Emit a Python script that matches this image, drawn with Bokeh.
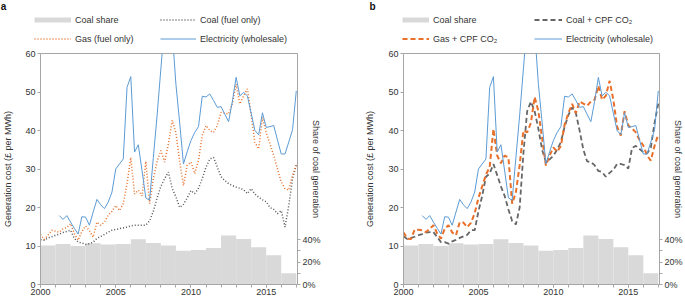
import numpy as np
from bokeh.plotting import figure
from bokeh.models import (Range1d, LinearAxis, FixedTicker, NumeralTickFormatter,
                          Legend, LegendItem)
from bokeh.layouts import row, column
from bokeh.embed import file_html
from bokeh.resources import INLINE

FONT = "Liberation Sans"

# ---------------- data ----------------
share_years = list(range(2000, 2017))
coal_share = [0.347, 0.361, 0.344, 0.367, 0.356, 0.361, 0.403, 0.370, 0.347,
              0.302, 0.308, 0.326, 0.436, 0.406, 0.332, 0.261, 0.101]

elec_start = 2001.25
electricity = [17.9, 16.9, 17.9,
               16.2, 14.6, 13.1, 17.6,
               17.5, 15.4, 18.8, 22.1,
               20.7, 19.7, 21.4, 24.0,
               30.0, 31.3, 32.6, 51.2,
               54.0, 34.4, 36.3, 29.5,
               22.5, 21.9, 33.0, 44.0,
               56.0, 68.0, 72.0, 66.0,
               52.0, 42.0, 31.3, 34.5,
               37.4, 39.5, 41.0, 48.9,
               48.7, 49.5, 47.8, 46.0,
               46.2, 44.2, 42.3, 47.5,
               53.8, 49.0, 49.9, 49.0,
               44.5, 40.0, 38.9, 44.6,
               40.8, 41.0, 41.3, 37.5,
               33.9, 33.9, 37.0, 40.2,
               50.3]

series_start = 2000.0
coal_fuel = [11.7, 11.5, 12.1, 12.4,
             12.8, 13.1, 13.5, 13.8,
             14.1, 12.0, 11.0, 10.8,
             10.4, 10.6, 11.0, 12.0,
             12.5, 13.0, 13.6, 14.1,
             14.3, 14.5, 14.7, 14.9,
             15.2, 15.4, 15.4, 15.4,
             15.4, 16.5, 19.0, 22.5,
             25.5, 27.5, 29.2, 25.0,
             22.8, 20.0, 20.8, 22.5,
             24.4, 23.6, 25.0, 27.5,
             30.5, 32.6, 33.0, 30.5,
             28.0, 27.0, 26.2, 25.7,
             25.3, 25.0, 24.6, 23.6,
             24.9, 23.5, 22.7, 22.0,
             21.5, 20.0, 19.5, 18.4,
             19.2, 14.9, 20.5, 27.5,
             31.0]
gas_fuel = [13.0, 11.7, 12.8, 14.1,
            13.8, 13.6, 14.5, 14.8,
            15.8, 13.2, 11.5, 13.8,
            15.2, 14.0, 12.3, 16.2,
            15.4, 16.2, 18.0, 19.0,
            20.5, 19.2, 21.0, 26.2,
            33.0, 23.5, 24.5, 23.0,
            32.0, 21.0, 27.5, 32.0,
            34.8, 31.8, 36.5, 42.6,
            39.4, 32.0, 25.7, 31.0,
            31.8, 28.8, 32.2, 38.7,
            41.3, 40.0, 39.5, 41.3,
            44.7, 44.5, 44.3, 47.0,
            52.0, 46.9, 49.0, 50.8,
            44.0, 36.9, 35.2, 43.4,
            39.5, 36.5, 33.5, 30.0,
            26.6, 24.9, 24.5, 28.5,
            31.0]
coal_cpf = [12.5, 11.8, 12.1, 12.4,
            12.8, 13.1, 13.5, 13.6,
            13.6, 12.3, 11.0, 11.0,
            10.6, 11.2, 11.6, 12.1,
            12.5, 12.9, 14.1, 14.1,
            19.0, 23.0, 28.0, 28.8,
            31.3, 28.4, 25.5, 23.0,
            19.5, 16.5, 15.6, 20.0,
            34.0, 45.0, 47.5, 45.0,
            40.4, 35.0, 31.8, 32.5,
            33.5, 35.0, 37.0, 41.0,
            44.0, 46.0, 44.5, 40.0,
            35.0, 32.0, 31.8, 31.0,
            29.5, 29.2, 28.0, 29.0,
            29.8, 31.3, 31.3, 31.0,
            30.1, 35.5, 36.0, 35.2,
            34.4, 34.0, 35.5, 42.0,
            47.0]
gas_cpf = [13.6, 11.9, 11.8, 14.3,
           14.2, 14.1, 13.6, 14.5,
           15.4, 13.2, 11.9, 14.5,
           15.4, 13.5, 12.8, 16.2,
           16.1, 14.9, 16.0, 18.5,
           22.5, 25.5, 28.5, 30.5,
           40.4, 33.5, 31.5, 33.5,
           33.0, 21.0, 24.0, 31.0,
           40.0, 39.5, 42.0, 48.7,
           45.0, 38.0, 30.9, 33.5,
           35.6, 34.5, 36.0, 41.5,
           44.5, 46.9, 44.5, 47.5,
           47.0, 46.4, 47.5, 48.0,
           51.6, 48.0, 49.0, 52.9,
           48.0, 41.0, 38.7, 45.0,
           41.3, 40.5, 39.5, 37.5,
           36.1, 33.5, 32.2, 36.0,
           39.0]

x_ticks = [2000, 2005, 2010, 2015]
x_minor = list(range(2000, 2018))
y_ticks = [0, 10, 20, 30, 40, 50, 60]
share_ticks = [0, 0.2, 0.4]
share_minor = [0.1, 0.3]

COL_SHARE = "#d9d9d9"
COL_ELEC = "#5b9bd5"
COL_GAS = "#e8702a"
COL_COAL = "#555555"
AX = "#a6a6a6"
TXT = "#333333"

HEAD_H = 47
X_RANGE = (2000, 2017.08)
SHARE_TOP = 2.06


def quarters(start, vals):
    return start + 0.25 * np.arange(len(vals))


def style_axis(ax):
    ax.axis_line_color = AX
    ax.major_tick_line_color = AX
    ax.minor_tick_line_color = AX
    ax.major_tick_in = 0
    ax.major_tick_out = 3
    ax.minor_tick_in = 0
    ax.minor_tick_out = 3
    ax.major_label_text_font = FONT
    ax.major_label_text_font_size = "9px"
    ax.major_label_text_color = TXT
    ax.axis_label_text_font = FONT
    ax.axis_label_text_font_size = "9px"
    ax.axis_label_text_font_style = "normal"
    ax.axis_label_text_color = TXT


def strip(width):
    # header strip: legend swatches come from the real series, which lie
    # outside this strip's visible range
    h = figure(width=width, height=HEAD_H, output_backend="svg",
               toolbar_location=None, x_range=Range1d(-1000, -900),
               y_range=Range1d(0, 1), min_border_left=0,
               min_border_right=0, min_border_top=0, min_border_bottom=0)
    h.axis.visible = False
    h.grid.visible = False
    h.outline_line_color = None
    h.border_fill_color = "white"
    h.background_fill_color = "white"
    return h


def add_legend(h, entries, x, glyph_w):
    items = []
    for label, xs, ys, kw in entries:
        r = h.line(x=xs, y=ys, **kw)
        items.append(LegendItem(label=label, renderers=[r]))
    h.add_layout(Legend(items=items, orientation="vertical",
                        location=(x, -1), margin=0, padding=0, spacing=0,
                        glyph_width=glyph_w, glyph_height=19, label_height=19,
                        label_standoff=4, border_line_color=None,
                        background_fill_alpha=0, label_text_font=FONT,
                        label_text_font_size="9px", label_text_color=TXT))


def header(letter, widths, letter_x, col1_x, glyph_w, lines):
    hA = strip(widths[0])
    hA.title.text = letter
    hA.title.align = "left"
    hA.title.offset = letter_x
    hA.title.standoff = 0
    hA.title.vertical_align = "top"
    hA.title.text_font = FONT
    hA.title.text_font_size = "10px"
    hA.title.text_font_style = "bold"
    hA.title.text_color = "#111111"
    share_entry = ("Coal share", share_years, coal_share,
                   dict(line_width=5, line_color=COL_SHARE))
    add_legend(hA, [share_entry, lines[1]], col1_x, glyph_w[0])

    hB = strip(widths[1])
    add_legend(hB, [lines[0], lines[2]], 0, glyph_w[1])
    return row(hA, hB)


def panel(width, border_left, ylab_standoff, lines):
    p = figure(width=width, height=298 - HEAD_H, output_backend="svg",
               toolbar_location=None,
               x_range=Range1d(*X_RANGE), y_range=Range1d(0, 60),
               min_border_left=border_left,
               min_border_right=width - border_left - 258,
               min_border_top=6, min_border_bottom=14)
    p.extra_y_ranges = {"share": Range1d(0, SHARE_TOP)}
    p.grid.visible = False
    p.outline_line_color = AX
    p.background_fill_color = "white"
    p.border_fill_color = "white"

    yrs = np.array(share_years, dtype=float)
    p.quad(left=yrs, right=yrs + 1, bottom=0, top=coal_share,
           y_range_name="share", fill_color=COL_SHARE, line_color=None)
    for name, x, y, kw in lines:
        p.line(x=x, y=y, **kw)

    xa = p.xaxis[0]
    xa.ticker = FixedTicker(ticks=x_ticks, minor_ticks=x_minor)
    style_axis(xa)
    xa.major_label_standoff = 1

    ya = p.yaxis[0]
    ya.ticker = FixedTicker(ticks=y_ticks)
    style_axis(ya)
    ya.major_label_standoff = 2
    ya.axis_label = "Generation cost (\u00a3 per MWh)"
    ya.axis_label_standoff = ylab_standoff

    ra = LinearAxis(y_range_name="share",
                    ticker=FixedTicker(ticks=share_ticks, minor_ticks=share_minor),
                    formatter=NumeralTickFormatter(format="0%"))
    style_axis(ra)
    ra.major_label_standoff = 2
    ra.axis_label = "Share of coal generation"
    ra.axis_label_standoff = -13
    p.add_layout(ra, "right")
    return p


elec_x = quarters(elec_start, electricity)

left_lines = [
    ("Coal (fuel only)", quarters(series_start, coal_fuel), coal_fuel,
     dict(line_color=COL_COAL, line_width=1.5, line_dash="1 2")),
    ("Gas (fuel only)", quarters(series_start, gas_fuel), gas_fuel,
     dict(line_color=COL_GAS, line_width=1.5, line_dash="1 2")),
    ("Electricity (wholesale)", elec_x, electricity,
     dict(line_color=COL_ELEC, line_width=1)),
]
right_lines = [
    ("Coal + CPF CO\u2082", quarters(series_start, coal_cpf), coal_cpf,
     dict(line_color="#666666", line_width=1.8, line_dash="5 3")),
    ("Gas + CPF CO\u2082", quarters(series_start, gas_cpf), gas_cpf,
     dict(line_color=COL_GAS, line_width=2, line_dash="5 3")),
    ("Electricity (wholesale)", elec_x, electricity,
     dict(line_color=COL_ELEC, line_width=1)),
]

h1 = header("a", (160, 180), 0.3, 34, (37, 36), left_lines)
h2 = header("b", (194, 151), 29.0, 62, (27, 28), right_lines)
p1 = panel(340, 39, 9, left_lines)
p2 = panel(345, 63, 10, right_lines)

layout = row(column(h1, p1), column(h2, p2))
open("out.html", "w").write(file_html(layout, INLINE))
